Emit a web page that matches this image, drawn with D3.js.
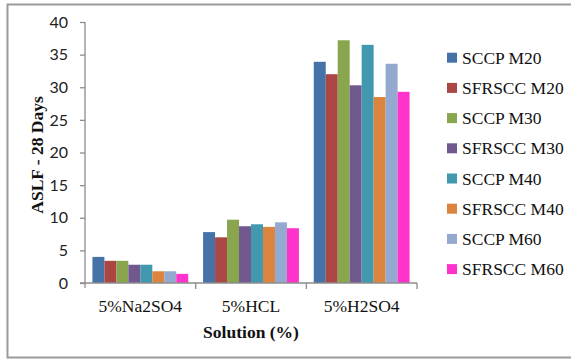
<!DOCTYPE html>
<html>
<head>
<meta charset="utf-8">
<script src="https://cdn.jsdelivr.net/npm/d3@7"></script>
<style>
  html, body { margin: 0; padding: 0; background: #fff; }
  svg { display: block; }
</style>
</head>
<body>
<svg id="chart" width="571" height="360"></svg>
<script>
// Solutions on the x axis
const categories = ["5%Na2SO4", "5%HCL", "5%H2SO4"];

// Series names, in legend / bar order
const seriesNames = ["SCCP M20", "SFRSCC M20", "SCCP M30", "SFRSCC M30",
                     "SCCP M40", "SFRSCC M40", "SCCP M60", "SFRSCC M60"];

// ASLF after 28 days, one array per series (values for each solution)
const sccpM20   = [4.0, 7.8, 33.9];
const sfrsccM20 = [3.4, 7.0, 32.0];
const sccpM30   = [3.4, 9.7, 37.2];
const sfrsccM30 = [2.8, 8.7, 30.3];
const sccpM40   = [2.8, 9.0, 36.5];
const sfrsccM40 = [1.8, 8.6, 28.5];
const sccpM60   = [1.8, 9.3, 33.6];
const sfrsccM60 = [1.4, 8.4, 29.3];

const yTicks = [0, 5, 10, 15, 20, 25, 30, 35, 40];

const seriesValues = [sccpM20, sfrsccM20, sccpM30, sfrsccM30,
                      sccpM40, sfrsccM40, sccpM60, sfrsccM60];
const colors = ["#4572A7", "#AA4643", "#89A54E", "#71588F",
                "#4198AF", "#DB843D", "#93A9CF", "#FF33CC"];

const svg = d3.select("#chart");

// outer frame
svg.append("rect")
  .attr("x", 7.5).attr("y", 4.5)
  .attr("width", 570).attr("height", 353)
  .attr("fill", "#fff")
  .attr("stroke", "#9a9a9a")
  .attr("stroke-width", 2);

const plot = { left: 85, right: 417, top: 22, bottom: 283 };

const x0 = d3.scaleBand()
  .domain(categories)
  .range([plot.left, plot.right])
  .paddingInner(0).paddingOuter(0);

const x1 = d3.scaleBand()
  .domain(seriesNames)
  .range([0, x0.bandwidth()])
  .paddingOuter(0.62).paddingInner(0);

const y = d3.scaleLinear().domain([0, 40]).range([plot.bottom, plot.top]);

// bars
seriesNames.forEach((name, si) => {
  svg.append("g")
    .selectAll("rect")
    .data(categories.map((c, ci) => ({ c, v: seriesValues[si][ci] })))
    .join("rect")
    .attr("x", d => x0(d.c) + x1(name))
    .attr("y", d => y(d.v))
    .attr("width", x1.bandwidth())
    .attr("height", d => plot.bottom - y(d.v))
    .attr("fill", colors[si]);
});

// y axis
const yAxis = svg.append("g")
  .attr("transform", `translate(${plot.left},0)`)
  .call(d3.axisLeft(y).tickValues(yTicks).tickSize(5).tickSizeOuter(0).tickPadding(12));
yAxis.select(".domain").attr("stroke", "#8c8c8c").attr("stroke-width", 1.3)
  .attr("d", `M0,${plot.top}V${plot.bottom + 5}`);
yAxis.selectAll(".tick line").attr("stroke", "#8c8c8c").attr("stroke-width", 1.3);
yAxis.selectAll(".tick text")
  .attr("font-family", "Lato, 'Open Sans', sans-serif")
  .attr("font-size", 16)
  .attr("fill", "#222");

// x axis: line with boundary ticks between categories
const xAxis = svg.append("g");
xAxis.append("line")
  .attr("x1", plot.left - 5).attr("x2", plot.right)
  .attr("y1", plot.bottom).attr("y2", plot.bottom)
  .attr("stroke", "#8c8c8c").attr("stroke-width", 1.3);
const bounds = categories.map(c => x0(c)).concat([x0(categories[categories.length - 1]) + x0.bandwidth()]);
xAxis.selectAll("line.tk")
  .data(bounds.slice(1))
  .join("line")
  .attr("class", "tk")
  .attr("x1", d => d).attr("x2", d => d)
  .attr("y1", plot.bottom).attr("y2", plot.bottom + 6)
  .attr("stroke", "#8c8c8c").attr("stroke-width", 1.3);
xAxis.selectAll("text")
  .data(categories)
  .join("text")
  .attr("x", d => x0(d) + x0.bandwidth() / 2)
  .attr("y", 312)
  .attr("text-anchor", "middle")
  .attr("font-family", "'Liberation Serif', 'Times New Roman', serif")
  .attr("font-size", 17.5)
  .attr("fill", "#111")
  .text(d => d);

// axis titles
svg.append("text")
  .attr("x", (plot.left + plot.right) / 2)
  .attr("y", 338)
  .attr("text-anchor", "middle")
  .attr("font-family", "'Liberation Serif', 'Times New Roman', serif")
  .attr("font-weight", "bold")
  .attr("font-size", 17.5)
  .attr("fill", "#111")
  .text("Solution (%)");

svg.append("text")
  .attr("transform", "translate(43,155) rotate(-90)")
  .attr("text-anchor", "middle")
  .attr("font-family", "'Liberation Serif', 'Times New Roman', serif")
  .attr("font-weight", "bold")
  .attr("font-size", 17.5)
  .attr("fill", "#111")
  .text("ASLF - 28 Days");

// legend
const legend = svg.append("g");
const rows = legend.selectAll("g")
  .data(seriesNames)
  .join("g")
  .attr("transform", (d, i) => `translate(447,${57.7 + i * 30.2})`);
rows.append("rect")
  .attr("x", 0).attr("y", -5)
  .attr("width", 10).attr("height", 10)
  .attr("fill", (d, i) => colors[i]);
rows.append("text")
  .attr("x", 15).attr("y", 6)
  .attr("font-family", "'Liberation Serif', 'Times New Roman', serif")
  .attr("font-size", 17.5)
  .attr("fill", "#111")
  .text(d => d);
</script>
</body>
</html>
